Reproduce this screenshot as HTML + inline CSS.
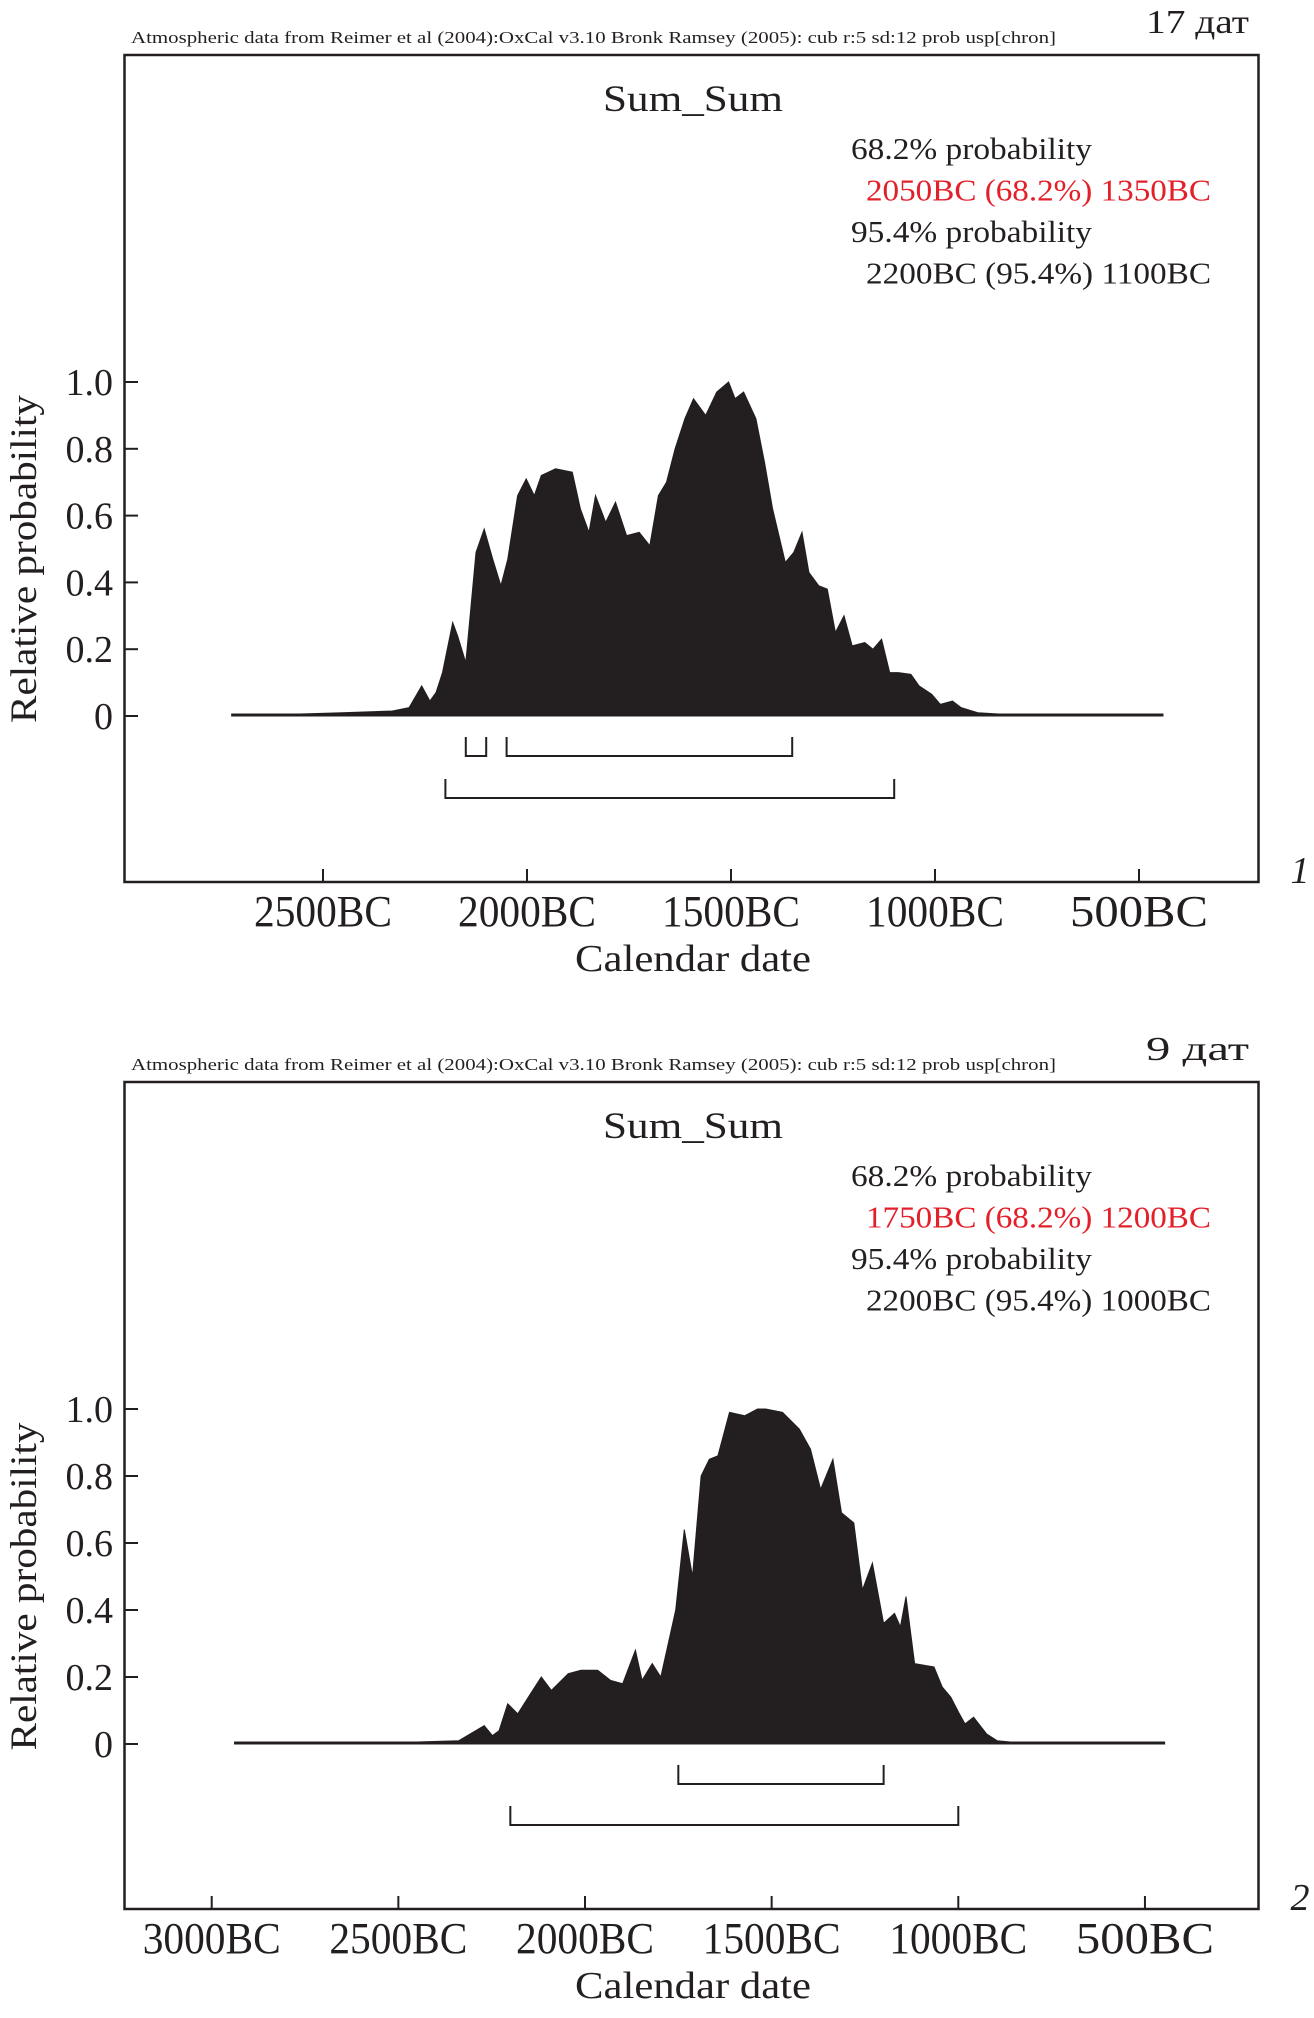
<!DOCTYPE html>
<html><head><meta charset="utf-8"><style>
html,body{margin:0;padding:0;background:#fff}
svg{display:block}
text{font-family:"Liberation Serif",serif;fill:#231f20}
</style></head><body>
<svg id="chart" width="1314" height="2018" viewBox="0 0 1314 2018" xmlns="http://www.w3.org/2000/svg"></svg>
<script>
// ---- data ----
const yTickValues = [0, 0.2, 0.4, 0.6, 0.8, 1.0];
const yTickLabels = ["0", "0.2", "0.4", "0.6", "0.8", "1.0"];

const xTicks1 = [2500, 2000, 1500, 1000, 500];
const xTicks2 = [3000, 2500, 2000, 1500, 1000, 500];

const years1 = [2725,2453,2330,2289,2258,2238,2223,2207,2182,2170,2150,2125,2105,2084,2064,2047,2023,2002,1982,1965,1930,1889,1869,1848,1832,1807,1783,1756,1725,1699,1678,1658,1637,1613,1592,1562,1535,1506,1490,1469,1439,1418,1398,1367,1346,1326,1309,1285,1264,1244,1223,1203,1172,1152,1131,1111,1090,1059,1039,1008,987,957,936,895,834,440];
const vals1 = [0,0.01,0.015,0.025,0.09,0.045,0.07,0.13,0.28,0.24,0.16,0.49,0.56,0.47,0.39,0.47,0.66,0.71,0.66,0.72,0.74,0.73,0.62,0.55,0.66,0.58,0.64,0.54,0.55,0.51,0.66,0.70,0.80,0.89,0.95,0.90,0.97,1.0,0.95,0.97,0.89,0.76,0.62,0.46,0.49,0.55,0.43,0.39,0.38,0.25,0.30,0.21,0.22,0.20,0.23,0.13,0.13,0.125,0.09,0.065,0.035,0.045,0.025,0.01,0.005,0];

const years2 = [2940,2473,2338,2270,2248,2230,2207,2180,2146,2117,2090,2045,2011,1966,1932,1899,1865,1847,1820,1797,1775,1757,1734,1712,1689,1667,1644,1613,1572,1538,1516,1471,1426,1396,1369,1336,1313,1280,1257,1230,1200,1171,1155,1140,1117,1065,1043,1020,997,982,959,924,896,840,446];
const vals2 = [0,0.005,0.01,0.055,0.025,0.04,0.12,0.09,0.15,0.2,0.16,0.21,0.22,0.22,0.19,0.18,0.28,0.19,0.24,0.2,0.31,0.4,0.64,0.5,0.8,0.85,0.86,0.99,0.98,1.0,1.0,0.99,0.94,0.88,0.76,0.85,0.69,0.66,0.46,0.54,0.36,0.39,0.35,0.44,0.24,0.23,0.17,0.14,0.09,0.06,0.08,0.03,0.01,0.004,0];

const range68_1 = [[2150,2100],[2050,1350]];
const range95_1 = [[2200,1100]];
const range68_2 = [[1750,1200]];
const range95_2 = [[2200,1000]];

const texts1 = ["68.2% probability","2050BC (68.2%) 1350BC","95.4% probability","2200BC (95.4%) 1100BC"];
const texts2 = ["68.2% probability","1750BC (68.2%) 1200BC","95.4% probability","2200BC (95.4%) 1000BC"];

const svg = document.getElementById('chart');
const NS = 'http://www.w3.org/2000/svg';
function mk(tag, attrs, parent){
  const e = document.createElementNS(NS, tag);
  for (const k in attrs) e.setAttribute(k, attrs[k]);
  (parent||svg).appendChild(e);
  return e;
}
function txt(parent, s, x, y, size, opts){
  const t = mk('text', {x:x, y:y, 'font-size':size}, parent);
  if (opts.anchor) t.setAttribute('text-anchor', opts.anchor);
  if (opts.len) { t.setAttribute('textLength', opts.len); t.setAttribute('lengthAdjust','spacingAndGlyphs'); }
  if (opts.fill) t.setAttribute('style','fill:'+opts.fill);
  if (opts.style) t.setAttribute('font-style', opts.style);
  if (opts.rot) t.setAttribute('transform', opts.rot);
  t.textContent = s;
  return t;
}

function panel(p){
  const g = mk('g', {});
  
  
  const xs = d => p.x0 + (p.d0 - d) * p.pxPerYear;
  const ys = v => p.yZero - v * (p.yZero - p.yOne);

  let t = txt(g, "Atmospheric data from Reimer et al (2004):OxCal v3.10 Bronk Ramsey (2005): cub r:5 sd:12 prob usp[chron]", 131, p.top - 12, 17, {len: 925});
  
  
  t = txt(g, p.count, 1249, p.countY, 34, {anchor:'end', len: 103});
  
  

  const box = mk('rect', {x:124.5, y:p.top, width:1134, height:p.bottom-p.top, fill:'none', stroke:'#231f20', 'stroke-width':2.5}, g);
  
  

  t = txt(g, "Sum_Sum", 693, p.top + 56, 37, {anchor:'middle', len: 180});
  
  

  const lx = [851, 866, 851, 866], lxs=[241,345,241,345];
  p.texts.forEach((s,i)=>{
    const e = txt(g, s, 851 + (i%2?15:0), p.top + 104 + i*41.5, 31, {len: lxs[i], fill: i===1 ? '#e3202a' : null});
    
    
  });

  // area
  let d = '';
  p.years.forEach((yr,i)=>{ d += (i?'L':'M') + xs(yr).toFixed(1) + ',' + ys(p.vals[i]).toFixed(1); });
  d += 'L' + xs(p.years[p.years.length-1]).toFixed(1) + ',' + ys(0) + 'L' + xs(p.years[0]).toFixed(1) + ',' + ys(0) + 'Z';
  const area = mk('path', {d:d, fill:'#231f20', stroke:'#231f20', 'stroke-width':1}, g);
  
  
  const base = mk('line', {x1:xs(p.years[0]), x2:xs(p.years[p.years.length-1]), y1:ys(0)-1, y2:ys(0)-1, stroke:'#231f20', 'stroke-width':3}, g);
  
  

  // y ticks
  yTickValues.forEach((v,i)=>{
    const y = ys(v);
    const l = mk('line', {x1:124.5, x2:138, y1:y, y2:y, stroke:'#231f20', 'stroke-width':2}, g);
    
    
    const e = txt(g, yTickLabels[i], 113, y + 13, 38, {anchor:'end'});
    
    
  });
  t = txt(g, "Relative probability", 0, 0, 37, {anchor:'middle', len:328, rot:'translate(36,' + (ys(0.5)+10) + ') rotate(-90)'});
  
  

  // x ticks
  p.xTicks.forEach(v=>{
    const x = xs(v);
    const l = mk('line', {x1:x, x2:x, y1:p.bottom, y2:p.bottom-13, stroke:'#231f20', 'stroke-width':2}, g);
    
    
    const e = txt(g, v + 'BC', x, p.bottom + 44, 44, {anchor:'middle', len:138});
    
    
  });
  t = txt(g, "Calendar date", 693, p.bottom + 89, 38, {anchor:'middle', len:236});
  
  

  // brackets
  function bracket(r, y, nm){
    const x1 = xs(r[0]), x2 = xs(r[1]);
    const pl = mk('polyline', {points: x1+','+(y-19)+' '+x1+','+y+' '+x2+','+y+' '+x2+','+(y-19), fill:'none', stroke:'#231f20', 'stroke-width':2}, g);
    
    
  }
  p.r68.forEach(r=>bracket(r, p.b68, 'range-68-bracket'));
  p.r95.forEach(r=>bracket(r, p.b95, 'range-95-bracket'));

  t = txt(g, p.num, 1300, p.numY, 38, {anchor:'middle', style:'italic'});
  
  
}

panel({name:'panel-17-dates', top:55, bottom:882, count:'17 дат', countY:33,
  x0:527, d0:2000, pxPerYear:0.408, yZero:716, yOne:382,
  years:years1, vals:vals1, xTicks:xTicks1, texts:texts1,
  r68:range68_1, r95:range95_1, b68:756, b95:798, num:'1', numY:883});
panel({name:'panel-9-dates', top:1082, bottom:1909, count:'9 дат', countY:1060,
  x0:585, d0:2000, pxPerYear:0.3733, yZero:1744, yOne:1409,
  years:years2, vals:vals2, xTicks:xTicks2, texts:texts2,
  r68:range68_2, r95:range95_2, b68:1784, b95:1825, num:'2', numY:1910});
</script>
</body></html>
